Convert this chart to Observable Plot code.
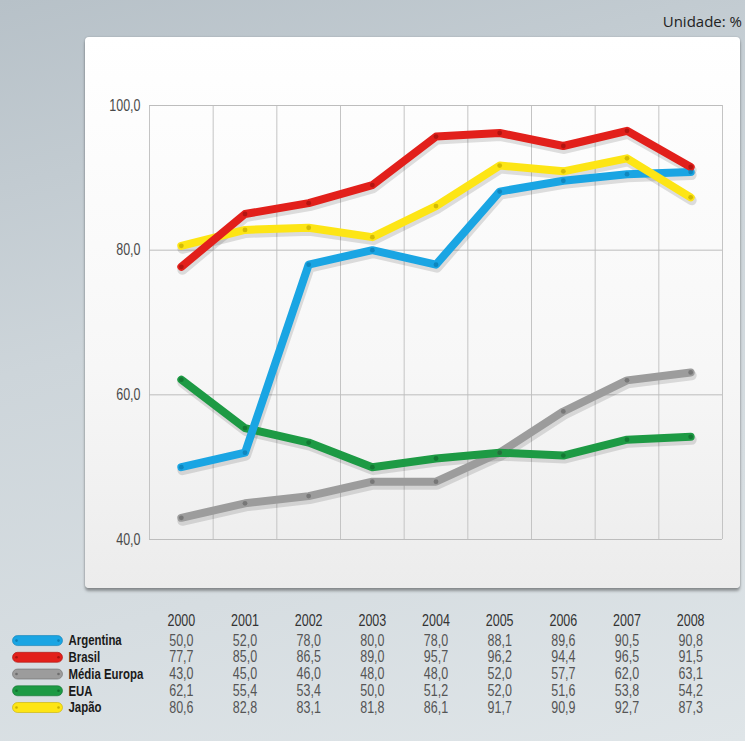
<!DOCTYPE html>
<html>
<head>
<meta charset="utf-8">
<script src="https://cdn.jsdelivr.net/npm/d3@7"></script>
<script src="https://cdn.jsdelivr.net/npm/@observablehq/plot@0.6"></script>
<style>
  html, body { margin: 0; padding: 0; }
  body { width: 745px; height: 741px; overflow: hidden; }
  #page {
    position: relative; width: 745px; height: 741px;
    background: linear-gradient(165deg, #b7c1c8 0%, #cdd5da 40%, #dfe5e8 100%);
  }
  #panel {
    position: absolute; left: 85px; top: 37px; width: 655px; height: 551px;
    background: linear-gradient(180deg, #ffffff 0%, #f7f7f7 60%, #ececec 100%);
    border-radius: 4px;
    box-shadow: 0 3px 3px rgba(0,0,0,0.35), 0 0 2px rgba(0,0,0,0.2);
  }
  #unit {
    position: absolute; right: 3px; top: 11px; font-size: 15px; color: #222;
    font-family: "Open Sans", "Noto Sans", sans-serif;
  }
  #chart { position: absolute; left: 0; top: 0; }
  #table { position: absolute; left: 0; top: 600px; }
  svg { background: transparent !important; overflow: visible; }
</style>
</head>
<body>
<div id="page">
  <div id="panel"></div>
  <div id="unit"></div>
  <div id="chart"></div>
  <div id="table"></div>
</div>
<script>
// ---- data ----
const years = [2000, 2001, 2002, 2003, 2004, 2005, 2006, 2007, 2008];
const seriesNames = ["Argentina", "Brasil", "Média Europa", "EUA", "Japão"];
const argentina = [50.0, 52.0, 78.0, 80.0, 78.0, 88.1, 89.6, 90.5, 90.8];
const brasil    = [77.7, 85.0, 86.5, 89.0, 95.7, 96.2, 94.4, 96.5, 91.5];
const europa    = [43.0, 45.0, 46.0, 48.0, 48.0, 52.0, 57.7, 62.0, 63.1];
const eua       = [62.1, 55.4, 53.4, 50.0, 51.2, 52.0, 51.6, 53.8, 54.2];
const japao     = [80.6, 82.8, 83.1, 81.8, 86.1, 91.7, 90.9, 92.7, 87.3];
const yTicks = [40, 60, 80, 100];
const unitLabel = "Unidade: %";

const seriesValues = [argentina, brasil, europa, eua, japao];
const colors = ["#1aa5e3", "#e2201b", "#9c9c9c", "#1d9a44", "#fde515"];
const dotColors = ["#0d7fb5", "#a8120e", "#6e6e6e", "#11702f", "#c8b000"];
// drawing order (bottom to top)
const drawOrder = ["Média Europa", "EUA", "Argentina", "Japão", "Brasil"];

document.getElementById("unit").textContent = unitLabel;

const ptBR = d3.formatLocale({decimal: ",", thousands: ".", grouping: [3], currency: ["R$", ""]});
const fmt = ptBR.format(".1f");

const rows = [];
seriesNames.forEach((name, i) => {
  years.forEach((yr, j) => rows.push({series: name, idx: i, year: yr, value: seriesValues[i][j]}));
});
const ordered = drawOrder.flatMap(n => rows.filter(r => r.series === n));
const colorScale = {domain: seriesNames, range: colors};

const xDomain = [years[0] - 0.5, years[years.length - 1] + 0.5];
const gridX = [...years.map(y => y - 0.5), years[years.length - 1] + 0.5];

const font = '"Liberation Sans", Arial, sans-serif';

// ---- chart ----
const chart = Plot.plot({
  width: 745, height: 600,
  marginLeft: 149, marginRight: 23, marginTop: 105, marginBottom: 61,
  style: {background: "transparent", fontFamily: font, fontSize: "16px", color: "#4a4a4a"},
  x: {domain: xDomain, axis: null},
  y: {domain: [40, 100], ticks: yTicks, tickFormat: fmt, tickSize: 0, tickPadding: 9, label: null},
  color: colorScale,
  marks: [
    Plot.ruleX(gridX, {stroke: "#c4c4c4", strokeWidth: 1}),
    Plot.ruleY(yTicks, {stroke: "#bdbdbd", strokeWidth: 1}),
    // shadows
    ...drawOrder.map(n => Plot.line(rows.filter(r => r.series === n), {
      x: "year", y: "value", stroke: "#000", strokeOpacity: 0.12, strokeWidth: 10,
      dy: 3, dx: 1, strokeLinecap: "round", strokeLinejoin: "round"
    })),
    // lines
    ...drawOrder.map(n => Plot.line(rows.filter(r => r.series === n), {
      x: "year", y: "value", stroke: "series", strokeWidth: 8,
      strokeLinecap: "round", strokeLinejoin: "round"
    })),
    Plot.dot(ordered, {x: "year", y: "value", r: 2.4, fill: d => dotColors[d.idx], fillOpacity: 0.8, stroke: "none"})
  ]
});
document.getElementById("chart").appendChild(chart);

// ---- table ----
const capsule = {
  draw(ctx, size) {
    const w = 50, h = 10, r = 5;
    ctx.moveTo(-w / 2 + r, -h / 2);
    ctx.lineTo(w / 2 - r, -h / 2);
    ctx.arc(w / 2 - r, 0, r, -Math.PI / 2, Math.PI / 2);
    ctx.lineTo(-w / 2 + r, h / 2);
    ctx.arc(-w / 2 + r, 0, r, Math.PI / 2, 3 * Math.PI / 2);
    ctx.closePath();
  }
};
const headerRow = years.map(y => ({year: y, row: -1.2}));
const legendRows = seriesNames.map((n, i) => ({series: n, row: i, idx: i}));
const cellRows = rows.map(r => ({...r, row: r.idx}));

const table = Plot.plot({
  width: 745, height: 141,
  marginLeft: 149, marginRight: 23, marginTop: 20, marginBottom: 34,
  style: {background: "transparent", fontFamily: font, fontSize: "16px"},
  x: {domain: xDomain, axis: null},
  y: {domain: [-1.2, 4], range: [20, 107], axis: null},
  color: colorScale,
  marks: [
    Plot.text(headerRow, {x: "year", y: "row", text: d => String(d.year), fill: "#333", fontSize: 16}),
    Plot.dot(legendRows, {frameAnchor: "left", y: "row", dx: -112, symbol: capsule, r: 5, fill: "series", stroke: d => dotColors[d.idx], strokeWidth: 0.6}),
    Plot.dot(legendRows, {frameAnchor: "left", y: "row", dx: -133, r: 1.3, fill: d => dotColors[d.idx]}),
    Plot.dot(legendRows, {frameAnchor: "left", y: "row", dx: -91, r: 1.3, fill: d => dotColors[d.idx]}),
    Plot.text(legendRows, {frameAnchor: "left", y: "row", dx: -81, text: "series", textAnchor: "start", fontWeight: "bold", fill: "#1a1a1a", fontSize: 15, className: "legend-label"}),
    Plot.text(cellRows, {x: "year", y: "row", text: d => fmt(d.value), fill: "#555", fontSize: 16})
  ]
});
document.getElementById("table").appendChild(table);

// condense all chart texts horizontally (reference uses a condensed face)
for (const svg of [chart, table]) {
  svg.querySelectorAll("text").forEach(t => {
    const len = t.getComputedTextLength();
    if (len > 0) {
      const isLegend = t.closest(".legend-label") !== null;
      t.setAttribute("textLength", (len * (isLegend ? 0.76 : 0.78)).toFixed(1));
      t.setAttribute("lengthAdjust", "spacingAndGlyphs");
    }
  });
}
</script>
</body>
</html>
